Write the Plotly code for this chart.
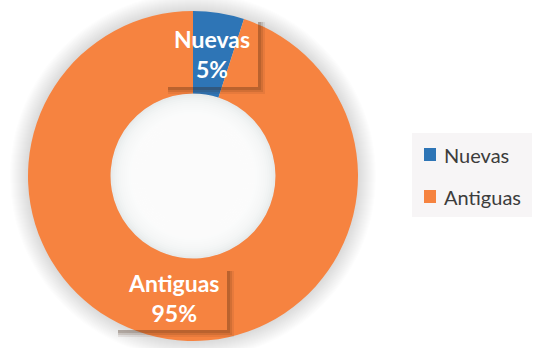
import plotly.graph_objects as go

# Chart data
labels = ["Nuevas", "Antiguas"]
values = [5, 95]
colors = ["#2E75B6", "#F68340"]

# Canvas geometry (pixels)
W, H = 540, 348
CX, CY, R = 193, 176, 165
HOLE = 0.5


def px(x):
    return x / W


def py(y):
    return 1 - y / H


fig = go.Figure(
    go.Pie(
        labels=labels,
        values=values,
        hole=HOLE,
        sort=False,
        direction="clockwise",
        rotation=0,
        marker=dict(colors=colors, line=dict(width=0)),
        textinfo="none",
        hoverinfo="label+percent",
        showlegend=False,
        domain=dict(x=[px(CX - R), px(CX + R)], y=[py(CY + R), py(CY - R)]),
    )
)

shapes = []


def circle(r, fill, layer="below"):
    shapes.append(dict(
        type="circle", xref="paper", yref="paper",
        x0=px(CX - r), x1=px(CX + r), y0=py(CY + r), y1=py(CY - r),
        fillcolor=fill, line=dict(width=0), layer=layer,
    ))


def rect(x0, y0, x1, y1, fill, layer="below"):
    shapes.append(dict(
        type="rect", xref="paper", yref="paper",
        x0=px(x0), x1=px(x1), y0=py(y1), y1=py(y0),
        fillcolor=fill, line=dict(width=0), layer=layer,
    ))


# soft halo around the ring
for k in range(18, 0, -1):
    circle(R + k, "rgba(110,120,120,0.012)")

# inner shading of the hole, fading to white in the middle
rh = R * HOLE
circle(rh, "#e8ebeb")
for k in range(2, 34, 2):
    circle(rh - k, "rgba(255,255,255,0.2)")


def box_shadow(x0, y0, x1, y1):
    # drop shadow on the right and bottom edges of a label box
    for off, a in ((7, 0.08), (5, 0.12), (3, 0.16)):
        rect(x1, y0 + 4, x1 + off, y1 + off, f"rgba(60,30,10,{a})", layer="above")
        rect(x0 + 5, y1, x1, y1 + off, f"rgba(60,30,10,{a})", layer="above")


label_boxes = [(163, 18, 258, 87), (113, 267, 227, 330)]
label_centers = [(212, 54), (173, 298)]

total = sum(values)
annotations = []
for lab, val, box, (tx, ty) in zip(labels, values, label_boxes, label_centers):
    box_shadow(*box)
    pct = round(100 * val / total)
    annotations.append(dict(
        x=px(tx), y=py(ty), xref="paper", yref="paper",
        text=f"<b>{lab}</b><br><b>{pct}%</b>",
        showarrow=False, xanchor="center", yanchor="middle",
        font=dict(family="Lato", size=23, color="white"),
    ))

# legend panel
rect(412, 133, 532, 217, "#f7f5f6")
legend_rows = [154.5, 196.5]
for lab, col, yc in zip(labels, colors, legend_rows):
    rect(424, yc - 6.5, 436, yc + 6.5, col)
    annotations.append(dict(
        x=px(442), y=py(yc), xref="paper", yref="paper",
        text=lab, showarrow=False, xanchor="left", yanchor="middle",
        font=dict(family="Lato", size=20, color="#3c3c3c"),
    ))

fig.update_layout(
    width=W, height=H,
    margin=dict(l=0, r=0, t=0, b=0),
    paper_bgcolor="white",
    plot_bgcolor="white",
    shapes=shapes,
    annotations=annotations,
    showlegend=False,
)

fig.write_html("out.html")
